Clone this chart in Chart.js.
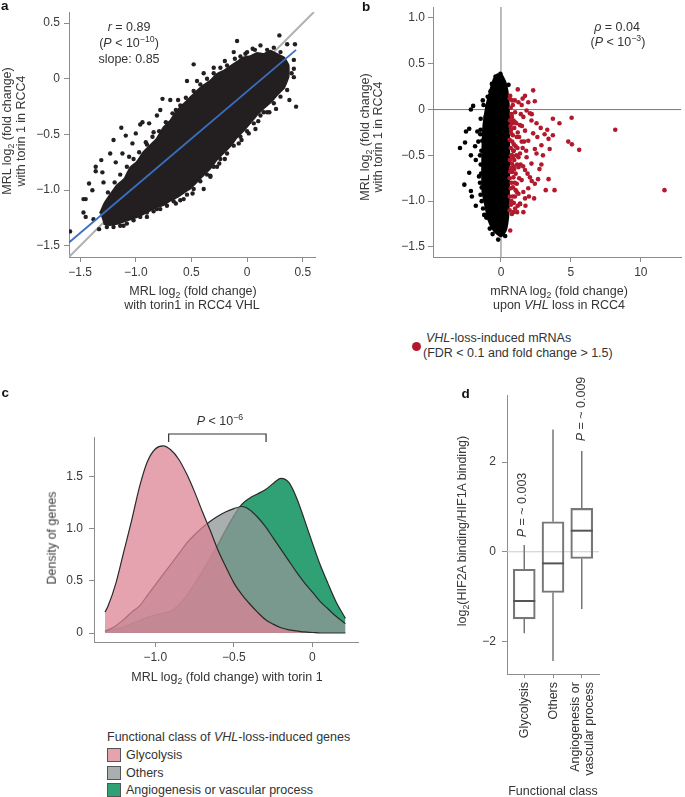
<!DOCTYPE html>
<html lang="en">
<head>
<meta charset="UTF-8" />
<title>MRL change with torin 1 in RCC4</title>
<script src="https://cdn.jsdelivr.net/npm/chart.js"></script>
<style>
  body { margin: 0; background: #fff; font-family: "Liberation Sans", Arial, sans-serif; color: #333; }
  #fig { position: relative; width: 685px; height: 797px; overflow: hidden; }
  canvas { position: absolute; }
  .t { position: absolute; font-size: 12.5px; white-space: nowrap; line-height: 1; transform: translate(-50%, -50%); }
  .l { position: absolute; font-size: 12.5px; white-space: nowrap; line-height: 1; transform: translateY(-50%); }
  .r { position: absolute; font-size: 12.5px; white-space: nowrap; line-height: 1; color: #3a3a3a; transform: translate(-50%, -50%) rotate(-90deg); }
  .vt { position: absolute; font-size: 12.5px; line-height: 14.5px; white-space: nowrap;
        writing-mode: vertical-rl; text-align: end; transform: translateX(-50%) rotate(180deg); }
  .lab { position: absolute; font-weight: bold; font-size: 13.5px; line-height: 1; color: #111; }
  .box { position: absolute; width: 12px; height: 12px; border: 1px solid #555; }
  sub, sup { font-size: 70%; line-height: 0; }
</style>
</head>
<body>
<div id="fig">
  <canvas id="chartA" width="330" height="290" style="left:0;top:0"></canvas>
  <canvas id="chartB" width="345" height="290" style="left:340px;top:0"></canvas>
  <canvas id="chartC" width="380" height="300" style="left:0;top:400px"></canvas>
  <canvas id="chartD" width="305" height="417" style="left:380px;top:380px"></canvas>

  <!-- panel a -->
  <div class="lab" style="left:1px;top:-1px">a</div>
  <div class="t" style="left:129px;top:27px"><i>r</i> = 0.89</div>
  <div class="t" style="left:129px;top:43px">(<i>P</i> &lt; 10<sup>−10</sup>)</div>
  <div class="t" style="left:129px;top:59px">slope: 0.85</div>
  <div class="t" style="left:193px;top:291px">MRL log<sub>2</sub> (fold change)</div>
  <div class="t" style="left:192px;top:305px">with torin1 in RCC4 VHL</div>
  <div class="r" style="left:7px;top:131px">MRL log<sub>2</sub> (fold change)</div>
  <div class="r" style="left:21px;top:131px">with torin 1 in RCC4</div>

  <!-- panel b -->
  <div class="lab" style="left:362px;top:0">b</div>
  <div class="t" style="left:617px;top:27px"><i>ρ</i> = 0.04</div>
  <div class="t" style="left:618px;top:42px">(<i>P</i> &lt; 10<sup>−3</sup>)</div>
  <div class="t" style="left:559px;top:291px">mRNA log<sub>2</sub> (fold change)</div>
  <div class="t" style="left:559px;top:305px">upon <i>VHL</i> loss in RCC4</div>
  <div class="r" style="left:365px;top:137px">MRL log<sub>2</sub> (fold change)</div>
  <div class="r" style="left:378px;top:137px">with torin 1 in RCC4</div>
  <div style="position:absolute;left:411.5px;top:341.5px;width:9px;height:9px;border-radius:50%;background:#b3192c"></div>
  <div class="l" style="left:426px;top:338px"><i>VHL</i>-loss-induced mRNAs</div>
  <div class="l" style="left:423px;top:353px">(FDR &lt; 0.1 and fold change &gt; 1.5)</div>

  <!-- panel c -->
  <div class="lab" style="left:1.5px;top:386px">c</div>
  <div class="t" style="left:220px;top:421px"><i>P</i> &lt; 10<sup>−6</sup></div>
  <div class="t" style="left:227px;top:677px">MRL log<sub>2</sub> (fold change) with torin 1</div>
  <div class="r" style="left:52px;top:538px">Density of genes</div>
  <div class="l" style="left:107px;top:737px">Functional class of <i>VHL</i>-loss-induced genes</div>
  <div class="box" style="left:107px;top:748px;background:#e5a3b0"></div>
  <div class="l" style="left:126px;top:755px">Glycolysis</div>
  <div class="box" style="left:107px;top:765.5px;background:#a9aeae"></div>
  <div class="l" style="left:126px;top:772.5px">Others</div>
  <div class="box" style="left:107px;top:783px;background:#2fa174"></div>
  <div class="l" style="left:126px;top:790px">Angiogenesis or vascular process</div>

  <!-- panel d -->
  <div class="lab" style="left:461.5px;top:387px">d</div>
  <div class="r" style="left:522px;top:505px"><i>P</i> = ~ 0.003</div>
  <div class="r" style="left:580.5px;top:409px"><i>P</i> = ~ 0.009</div>
  <div class="r" style="left:462px;top:531px">log<sub>2</sub>(HIF2A binding/HIF1A binding)</div>
  <div class="t" style="left:553px;top:791px">Functional class</div>
</div>

<script>
  // ---- panel a: MRL change, RCC4 vs RCC4 VHL ----
  const aXTicks = [-1.5, -1.0, -0.5, 0, 0.5];
  const aXTickLabels = ['−1.5', '−1.0', '0.5', '0', '0.5'];
  const aYTicks = [-1.5, -1.0, -0.5, 0, 0.5];
  const aYTickLabels = ['−1.5', '−1.0', '−0.5', '0', '0.5'];
  // outline of the dense part of the cloud
  const aCloud = [
    [-1.32, -1.21], [-1.28, -1.12], [-1.22, -1.03], [-1.17, -0.96], [-1.10, -0.90], [-1.05, -0.80],
    [-0.99, -0.75], [-0.93, -0.66], [-0.87, -0.60], [-0.81, -0.54], [-0.75, -0.44], [-0.69, -0.38],
    [-0.63, -0.29], [-0.57, -0.23], [-0.51, -0.17], [-0.45, -0.11], [-0.39, -0.06], [-0.33, -0.02],
    [-0.27, 0.04], [-0.21, 0.07], [-0.15, 0.11], [-0.09, 0.15], [-0.03, 0.19], [0.03, 0.20],
    [0.09, 0.23], [0.15, 0.22], [0.21, 0.25], [0.27, 0.22], [0.33, 0.19], [0.37, 0.12],
    [0.37, 0.02], [0.33, -0.08], [0.27, -0.14], [0.21, -0.21], [0.15, -0.26], [0.09, -0.32],
    [0.03, -0.39], [-0.03, -0.46], [-0.09, -0.52], [-0.15, -0.60], [-0.21, -0.66], [-0.27, -0.72],
    [-0.33, -0.80], [-0.39, -0.86], [-0.45, -0.92], [-0.51, -0.98], [-0.57, -1.02], [-0.63, -1.06],
    [-0.69, -1.09], [-0.75, -1.13], [-0.81, -1.15], [-0.87, -1.18], [-0.93, -1.21], [-0.99, -1.24],
    [-1.05, -1.26], [-1.11, -1.28], [-1.17, -1.30], [-1.23, -1.31], [-1.29, -1.30]
  ];
  // single genes around the dense part
  const aDots = [
    [-1.59, -1.37], [-1.47, -1.08], [-1.45, -1.08], [-1.47, -1.20], [-1.45, -1.24], [-1.38, -1.26],
    [-1.42, -0.94], [-1.39, -1.00], [-1.36, -0.79], [-1.36, -0.83], [-1.31, -0.73], [-1.30, -0.84],
    [-1.29, -0.93], [-1.23, -0.67], [-1.20, -0.55], [-1.18, -0.75], [-1.13, -0.44], [-1.12, -0.67],
    [-1.09, -0.51], [-1.06, -0.70], [-1.03, -0.58], [-1.00, -0.49], [-0.96, -0.41], [-0.94, -0.39],
    [-0.88, -0.40], [-0.91, -0.57], [-0.84, -0.48], [-0.81, -0.33], [-0.78, -0.28], [-0.71, -0.40],
    [-0.64, -0.28], [-0.62, -0.19], [-0.81, -1.17], [-0.97, -1.20], [-1.06, -1.23], [-1.11, -1.32],
    [-1.20, -1.33], [-1.26, -1.33], [-1.33, -1.35], [-0.49, -1.03], [-0.33, -0.88], [-0.39, -0.99],
    [-0.27, -0.79], [-0.64, -1.12], [-0.72, -1.09], [-0.90, -1.20], [-0.76, -0.18], [-0.69, -0.19],
    [-0.54, -0.02], [-0.48, 0.13], [-0.39, 0.05], [-0.45, -0.02], [-0.30, 0.10], [-0.20, 0.16],
    [-0.09, 0.34], [-0.12, 0.24], [-0.015, 0.225], [0.05, 0.27], [0.12, 0.30], [0.24, 0.28],
    [0.29, 0.39], [0.36, 0.31], [0.43, 0.31], [0.42, 0.17], [0.42, 0.09], [0.42, 0.015],
    [0.33, -0.02], [0.38, -0.19], [0.44, -0.25], [0.26, -0.27], [0.255, -0.12], [0.15, -0.30],
    [0.075, -0.45], [0.015, -0.49], [-0.075, -0.58], [-0.12, -0.53], [-0.33, -0.87], [-0.42, -0.81],
    [-0.60, -1.09], [-0.78, -1.17], [-0.96, -1.24], [-0.20, -0.72], [-0.05, -0.55], [0.10, -0.38],
    [0.20, -0.30], [-0.57, -1.08], [-0.25, -0.76],
    [-1.25, -1.02], [-1.19, -0.93], [-1.14, -0.86], [-1.08, -0.79], [-1.02, -0.72], [-0.97, -0.66],
    [-0.90, -0.59], [-0.85, -0.52], [-0.79, -0.47], [-0.73, -0.39], [-0.67, -0.31], [-0.60, -0.24],
    [-0.55, -0.17], [-0.48, -0.11], [-0.42, -0.05], [-0.36, 0.00], [-0.30, 0.05], [-0.24, 0.10],
    [-0.18, 0.12], [-0.11, 0.18], [-0.06, 0.20], [0.00, 0.24], [0.07, 0.26], [0.18, 0.26],
    [0.30, 0.24], [0.40, 0.05], [0.36, -0.10], [0.30, -0.16], [0.24, -0.22], [0.18, -0.30],
    [0.12, -0.33], [0.06, -0.40], [0.00, -0.47], [-0.06, -0.52], [-0.12, -0.60], [-0.18, -0.67],
    [-0.24, -0.72], [-0.30, -0.79], [-0.36, -0.86], [-0.42, -0.92], [-0.48, -0.99], [-0.54, -1.04],
    [-0.66, -1.10], [-0.72, -1.14], [-0.84, -1.19], [-0.90, -1.24], [-1.02, -1.27], [-1.08, -1.30],
    [-1.14, -1.32]
  ];
  const aIdentity = [[-1.6, -1.6], [0.6, 0.6]];
  const aFit = [[-1.6, -1.47], [0.44, 0.26]];

  // ---- panel b: mRNA change upon VHL loss ----
  const bXTicks = [0, 5, 10];
  const bXTickLabels = ['0', '5', '10'];
  const bYTicks = [-1.5, -1.0, -0.5, 0, 0.5, 1.0];
  const bYTickLabels = ['−1.5', '−1.0', '−0.5', '0', '0.5', '1.0'];
  const bCloud = [
    [0.0, 0.39], [0.3, 0.3], [0.45, 0.2], [0.54, 0.05], [0.56, -0.3], [0.56, -0.7], [0.54, -1.0],
    [0.5, -1.17], [0.33, -1.32], [0.0, -1.38], [-0.5, -1.32], [-0.9, -1.2], [-1.1, -1.05],
    [-1.3, -0.9], [-1.32, -0.55], [-1.25, -0.2], [-1.05, 0.02], [-0.8, 0.18], [-0.5, 0.33], [-0.2, 0.39]
  ];
  const bOtherDots = [
    [-2.93, -0.42], [-2.57, -0.36], [-2.5, -0.24], [-2.27, -0.21], [-2.15, 0.00], [-1.99, 0.04],
    [-1.69, -0.24], [-1.46, -0.22], [-2.15, -0.50], [-2.27, -0.69], [-2.62, -0.82], [-2.15, -0.89],
    [-2.08, -0.95], [-1.8, -1.05], [-1.46, -0.93], [-1.57, -0.73], [-1.8, -0.55], [-1.85, -0.40],
    [-1.34, -0.34], [-1.1, -0.08], [-0.98, 0.04], [-0.75, 0.2], [-0.39, 0.36], [-0.04, 0.39],
    [-1.45, -0.6], [-1.4, -0.45], [-1.5, -0.8], [-1.38, -1.0], [-1.2, -1.15], [-0.6, -1.36],
    [-0.2, -1.42], [0.3, -1.38], [-1.45, -0.1], [-1.3, 0.1], [-1.62, -0.35], [1.36, -1.03],
    [0.54, 0.27], [0.9, -0.45], [-1.42, -0.7], [-1.48, -0.27], [-1.38, -0.85], [-1.28, -1.08],
    [-1.05, -1.18], [-0.8, -1.3], [-1.25, 0.05], [-0.95, 0.14], [-0.65, 0.28], [-1.5, -0.5]
  ];
  const bInducedDots = [
    [2.30, 0.21], [2.42, 0.09], [1.72, 0.15], [1.25, 0.08], [0.66, 0.15], [1.48, 0.05], [1.83, -0.01],
    [2.07, -0.04], [1.60, -0.08], [1.01, -0.03], [3.71, -0.10], [4.18, -0.15], [5.05, -0.09],
    [8.17, -0.22], [11.69, -0.88], [2.84, -0.20], [3.31, -0.22], [3.12, -0.27], [3.71, -0.28],
    [3.40, -0.32], [4.81, -0.35], [5.07, -0.38], [5.59, -0.44], [3.48, -0.43], [2.89, -0.39],
    [2.42, -0.43], [1.95, -0.34], [2.30, -0.26], [1.72, -0.23], [1.36, -0.17], [1.01, -0.14],
    [1.48, -0.35], [1.13, -0.30], [0.89, -0.45], [1.36, -0.48], [1.83, -0.52], [2.54, -0.48],
    [2.89, -0.60], [2.18, -0.59], [1.72, -0.66], [1.25, -0.63], [0.89, -0.74], [1.48, -0.77],
    [2.07, -0.74], [2.65, -0.76], [3.40, -0.76], [3.83, -0.88], [2.42, -0.81], [1.95, -0.86],
    [1.13, -0.90], [1.72, -0.97], [2.37, -0.97], [1.36, -1.03], [1.01, -1.08], [1.60, -1.12],
    [0.78, -1.14], [0.66, -1.32], [1.13, -0.81], [0.78, -0.59], [0.73, -0.26], [0.78, -0.08],
    [2.18, -0.12], [2.54, -0.15], [0.75, -0.05], [0.85, 0.05], [0.95, -0.2], [0.8, -0.35],
    [0.95, -0.55], [0.8, -0.68], [1.05, -0.4], [1.15, -0.6], [0.85, -0.85], [1.0, -0.95],
    [0.75, -1.0], [1.2, -1.05], [0.9, -0.12], [1.1, -0.5], [1.3, -0.75], [0.72, -0.5],
    [0.75, -0.8], [1.2, -0.25], [1.4, -0.6], [1.55, -0.42], [1.6, -0.9], [1.25, -0.92],
    [0.95, -0.65], [0.8, -0.15], [0.62, 0.12], [0.7, 0.02], [0.64, -0.12], [0.72, -0.22],
    [0.62, -0.33], [0.7, -0.42], [0.63, -0.55], [0.71, -0.64], [0.62, -0.75], [0.7, -0.86],
    [0.63, -0.95], [0.71, -1.04], [0.62, -1.1], [0.85, -0.28], [0.92, -0.38], [0.84, -0.52],
    [0.9, -0.62], [0.98, -0.8], [0.85, -0.95], [0.92, -1.02], [1.05, -0.7], [1.1, -0.15],
    [1.0, 0.1], [0.8, 0.1], [1.18, -0.42], [1.25, -0.52], [1.3, -0.3], [1.05, -0.88],
    [1.15, -1.12], [0.88, -1.12], [0.68, -0.18], [0.66, -0.68], [0.8, -0.5], [1.42, -0.05],
    [1.5, -0.18], [1.65, -0.35], [1.8, -0.45], [1.58, -0.62], [1.9, -0.7], [2.0, -0.95],
    [1.75, -1.05], [2.2, -0.78], [2.6, -0.3], [2.75, -0.65], [3.0, -0.5], [3.2, -0.88],
    [2.2, -0.05], [1.95, 0.08], [1.55, 0.12], [1.2, 0.22]
  ];
  const bZeroH = [[-4.9, 0], [12.9, 0]];
  const bZeroV = [[0, -1.61], [0, 1.12]];

  // ---- panel c: density of MRL change per functional class ----
  const cX = [-1.32, -1.30, -1.25, -1.20, -1.15, -1.10, -1.05, -1.00, -0.95, -0.90, -0.85, -0.80,
              -0.75, -0.70, -0.65, -0.60, -0.55, -0.50, -0.45, -0.40, -0.35, -0.30, -0.25, -0.20,
              -0.15, -0.10, -0.05, 0.00, 0.05, 0.10, 0.15, 0.21];
  const cGlycolysis = [0.20, 0.26, 0.48, 0.78, 1.08, 1.40, 1.64, 1.76, 1.79, 1.75, 1.66, 1.52,
                       1.35, 1.16, 0.98, 0.79, 0.63, 0.48, 0.37, 0.28, 0.20, 0.13, 0.085, 0.05,
                       0.03, 0.02, 0.01, 0.005, 0, 0, 0, 0];
  const cOthers = [0.02, 0.03, 0.07, 0.13, 0.20, 0.26, 0.36, 0.46, 0.56, 0.66, 0.76, 0.86,
                   0.94, 1.01, 1.07, 1.12, 1.16, 1.19, 1.21, 1.18, 1.11, 1.02, 0.91, 0.80,
                   0.69, 0.58, 0.48, 0.39, 0.30, 0.23, 0.16, 0.09];
  const cAngiogenesis = [0.01, 0.02, 0.04, 0.06, 0.09, 0.12, 0.15, 0.17, 0.19, 0.21, 0.27, 0.36,
                         0.47, 0.59, 0.72, 0.85, 0.99, 1.12, 1.23, 1.29, 1.33, 1.37, 1.43, 1.48,
                         1.44, 1.29, 1.08, 0.86, 0.65, 0.47, 0.30, 0.14];
  const cXTicks = [-1.0, -0.5, 0];
  const cXTickLabels = ['−1.0', '−0.5', '0'];
  const cYTicks = [0, 0.5, 1.0, 1.5];
  const cYTickLabels = ['0', '0.5', '1.0', '1.5'];
  const cBracket = [-0.915, -0.295];

  // ---- panel d: HIF2A / HIF1A binding per class ----
  const dCategories = [['Glycolysis'], ['Others'], ['Angiogenesis or', 'vascular process']];
  const dLow = [-1.82, -2.44, -1.28];
  const dQ1 = [-1.50, -0.91, -0.15];
  const dMedian = [-1.10, -0.26, 0.47];
  const dQ3 = [-0.39, 0.67, 0.97];
  const dHigh = [0.15, 2.73, 2.25];
  const dYTicks = [-2, 0, 2];
  const dYTickLabels = ['−2', '0', '2'];

  Chart.defaults.font.family = '"Liberation Sans", Arial, sans-serif';
  Chart.defaults.font.size = 12;
  Chart.defaults.color = '#3a3a3a';
  Chart.defaults.animation = false;
  Chart.defaults.plugins.legend.display = false;
  Chart.defaults.plugins.tooltip.enabled = false;

  const AXIS = '#8c8c8c';
  const pts = arr => arr.map(p => ({ x: p[0], y: p[1] }));

  function axis(min, max, ticks, labels, size, pad) {
    return {
      type: 'linear', min: min, max: max, offset: false,
      afterBuildTicks: s => { s.ticks = ticks.map(v => ({ value: v })); },
      afterFit: s => {
        if (s.isHorizontal()) s.height = size; else s.width = size;
        s.paddingLeft = s.paddingRight = s.paddingTop = s.paddingBottom = 0;
      },
      ticks: { callback: (v, i) => labels[i], padding: pad, autoSkip: false, maxRotation: 0, minRotation: 0 },
      grid: { drawOnChartArea: false, drawTicks: true, tickLength: 5, color: AXIS, offset: false },
      border: { color: AXIS, width: 1 }
    };
  }

  // panel a
  new Chart(document.getElementById('chartA'), {
    type: 'scatter',
    data: {
      datasets: [
        { data: pts(aFit), showLine: true, borderColor: '#3a6fc0', borderWidth: 1.8, pointRadius: 0, order: 0 },
        { data: pts(aDots), pointRadius: 2.2, pointBorderWidth: 0, backgroundColor: '#231f20', order: 1 },
        { data: pts(aCloud), showLine: true, tension: 0.1, fill: 'shape', backgroundColor: '#231f20',
          borderColor: '#231f20', borderWidth: 2.5, pointRadius: 0, order: 2 },
        { data: pts(aIdentity), showLine: true, borderColor: '#b0b0b0', borderWidth: 2, pointRadius: 0, order: 3 }
      ]
    },
    options: {
      responsive: false,
      layout: { padding: { left: 0, top: 12, right: 15, bottom: 0 } },
      scales: {
        x: axis(-1.6, 0.61, aXTicks, aXTickLabels, 33, 3),
        y: axis(-1.6, 0.6, aYTicks, aYTickLabels, 69, 4)
      }
    }
  });

  // panel b
  new Chart(document.getElementById('chartB'), {
    type: 'scatter',
    data: {
      datasets: [
        { data: pts(bInducedDots), pointRadius: 2.3, pointBorderWidth: 0, backgroundColor: '#b3192c', order: 0 },
        { data: pts(bOtherDots), pointRadius: 2.3, pointBorderWidth: 0, backgroundColor: '#000', order: 1 },
        { data: pts(bCloud), showLine: true, tension: 0.2, fill: 'shape', backgroundColor: '#000',
          borderColor: '#000', borderWidth: 2.5, pointRadius: 0, order: 2 },
        { data: pts(bZeroH), showLine: true, borderColor: '#777', borderWidth: 1, pointRadius: 0, order: 3 },
        { data: pts(bZeroV), showLine: true, borderColor: '#777', borderWidth: 1, pointRadius: 0, order: 3 }
      ]
    },
    options: {
      responsive: false,
      layout: { padding: { left: 0, top: 7, right: 0, bottom: 0 } },
      scales: {
        x: axis(-4.86, 12.87, bXTicks, bXTickLabels, 33, 3),
        y: axis(-1.61, 1.12, bYTicks, bYTickLabels, 93, 3)
      }
    }
  });

  // panel c
  const bracketPlugin = {
    id: 'bracket',
    afterDraw(chart) {
      const ctx = chart.ctx, xs = chart.scales.x, top = chart.chartArea.top;
      const x1 = xs.getPixelForValue(cBracket[0]), x2 = xs.getPixelForValue(cBracket[1]);
      ctx.save();
      ctx.strokeStyle = '#333';
      ctx.lineWidth = 1.2;
      ctx.beginPath();
      ctx.moveTo(x1, top + 5); ctx.lineTo(x1, top - 3); ctx.lineTo(x2, top - 3); ctx.lineTo(x2, top + 5);
      ctx.stroke();
      ctx.restore();
    }
  };
  const curve = (ys, fillColor, ord) => ({
    data: cX.map((x, i) => ({ x: x, y: ys[i] })),
    fill: 'origin', backgroundColor: fillColor, borderColor: '#2a2a2a', borderWidth: 1.2,
    pointRadius: 0, cubicInterpolationMode: 'monotone', order: ord
  });
  new Chart(document.getElementById('chartC'), {
    type: 'line',
    data: {
      datasets: [
        curve(cGlycolysis, 'rgba(220,131,149,0.74)', 0),
        curve(cOthers, 'rgba(143,150,150,0.77)', 1),
        curve(cAngiogenesis, '#2fa174', 2)
      ]
    },
    options: {
      responsive: false,
      layout: { padding: { left: 0, top: 37, right: 22, bottom: 0 } },
      scales: {
        x: axis(-1.39, 0.29, cXTicks, cXTickLabels, 58, 3),
        y: axis(-0.086, 1.875, cYTicks, cYTickLabels, 94, 6)
      }
    },
    plugins: [bracketPlugin]
  });

  // panel d
  const whiskerPlugin = {
    id: 'whiskers',
    afterDatasetsDraw(chart) {
      const ctx = chart.ctx, ys = chart.scales.y;
      const bars = chart.getDatasetMeta(0).data;
      ctx.save();
      bars.forEach((bar, i) => {
        const half = bar.width / 2;
        ctx.strokeStyle = '#777';
        ctx.lineWidth = 1.5;
        ctx.beginPath();
        ctx.moveTo(bar.x, ys.getPixelForValue(dQ3[i])); ctx.lineTo(bar.x, ys.getPixelForValue(dHigh[i]));
        ctx.moveTo(bar.x, ys.getPixelForValue(dQ1[i])); ctx.lineTo(bar.x, ys.getPixelForValue(dLow[i]));
        ctx.stroke();
        ctx.strokeStyle = '#555';
        ctx.lineWidth = 2;
        ctx.beginPath();
        const m = ys.getPixelForValue(dMedian[i]);
        ctx.moveTo(bar.x - half, m); ctx.lineTo(bar.x + half, m);
        ctx.stroke();
      });
      ctx.restore();
    }
  };
  const dAxisX = axis(0.4, 3.6, [1, 2, 3], ['', '', ''], 123, 3);
  dAxisX.grid.tickLength = 4;
  const dChart = new Chart(document.getElementById('chartD'), {
    type: 'bar',
    data: {
      datasets: [
        { data: dQ1.map((q, i) => ({ x: i + 1, y: [q, dQ3[i]] })), backgroundColor: 'rgba(0,0,0,0)',
          borderColor: '#777', borderWidth: 1.5, borderSkipped: false, barThickness: 22, order: 0 },
        { type: 'line', data: [{ x: 0.4, y: 0 }, { x: 3.6, y: 0 }], borderColor: '#cccccc',
          borderWidth: 1.2, pointRadius: 0, order: 1 }
      ]
    },
    options: {
      responsive: false,
      layout: { padding: { left: 0, top: 15, right: 86, bottom: 0 } },
      scales: {
        x: dAxisX,
        y: axis(-2.73, 3.5, dYTicks, dYTickLabels, 127, 6)
      }
    },
    plugins: [whiskerPlugin]
  });

  // category names under the boxes, placed with the chart's own x scale
  const fig = document.getElementById('fig');
  const dx = dChart.scales.x;
  dCategories.forEach((name, i) => {
    const el = document.createElement('div');
    el.className = 'vt';
    el.innerHTML = name.join('<br>');
    el.style.left = (380 + dx.getPixelForValue(i + 1)) + 'px';
    el.style.top = (380 + dx.top + 8) + 'px';
    fig.appendChild(el);
  });
</script>
</body>
</html>
